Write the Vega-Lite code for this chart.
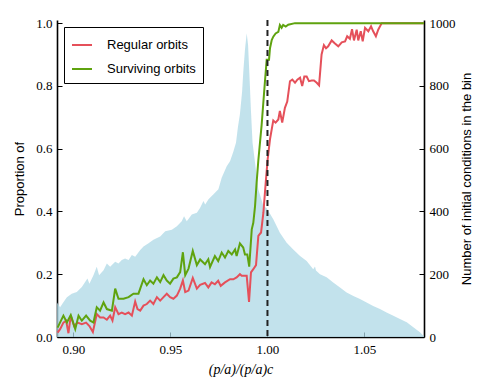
{
  "$schema": "https://vega.github.io/schema/vega-lite/v6.json",
  "width": 367,
  "height": 317,
  "autosize": {"type": "none"},
  "padding": {"left": 57, "top": 20, "right": 67, "bottom": 55},
  "background": "white",
  "config": {
    "view": {"stroke": null},
    "axis": {
      "grid": false,
      "domainColor": "#000000",
      "domainWidth": 1.6,
      "tickColor": "#000000",
      "tickWidth": 1,
      "tickSize": -5,
      "labelFont": "Liberation Serif",
      "labelFontSize": 13,
      "labelColor": "#000000",
      "titleFont": "Liberation Sans",
      "titleFontSize": 13,
      "titleFontWeight": "normal",
      "titleColor": "#000000"
    }
  },
  "datasets": {
    "hist": [
      {"x": 0.8915, "n": 110}, {"x": 0.8931, "n": 95}, {"x": 0.8948, "n": 111}, {"x": 0.8966, "n": 127},
      {"x": 0.8991, "n": 138}, {"x": 0.9017, "n": 143}, {"x": 0.9043, "n": 159}, {"x": 0.9060, "n": 175},
      {"x": 0.9072, "n": 186}, {"x": 0.9082, "n": 170}, {"x": 0.9103, "n": 197}, {"x": 0.9120, "n": 224},
      {"x": 0.9132, "n": 197}, {"x": 0.9155, "n": 213}, {"x": 0.9172, "n": 234}, {"x": 0.9189, "n": 224},
      {"x": 0.9215, "n": 240}, {"x": 0.9232, "n": 234}, {"x": 0.9249, "n": 245}, {"x": 0.9266, "n": 250},
      {"x": 0.9284, "n": 245}, {"x": 0.9301, "n": 261}, {"x": 0.9318, "n": 256}, {"x": 0.9344, "n": 277},
      {"x": 0.9361, "n": 288}, {"x": 0.9387, "n": 299}, {"x": 0.9412, "n": 310}, {"x": 0.9447, "n": 320},
      {"x": 0.9473, "n": 337}, {"x": 0.9490, "n": 339}, {"x": 0.9507, "n": 342}, {"x": 0.9533, "n": 353},
      {"x": 0.9558, "n": 369}, {"x": 0.9570, "n": 385}, {"x": 0.9584, "n": 369}, {"x": 0.9610, "n": 390},
      {"x": 0.9636, "n": 396}, {"x": 0.9653, "n": 412}, {"x": 0.9670, "n": 433}, {"x": 0.9679, "n": 422},
      {"x": 0.9696, "n": 439}, {"x": 0.9722, "n": 455}, {"x": 0.9747, "n": 471}, {"x": 0.9764, "n": 507},
      {"x": 0.9790, "n": 544}, {"x": 0.9807, "n": 560}, {"x": 0.9824, "n": 590}, {"x": 0.9838, "n": 620},
      {"x": 0.9848, "n": 670}, {"x": 0.9858, "n": 710}, {"x": 0.9869, "n": 780}, {"x": 0.9876, "n": 850},
      {"x": 0.9884, "n": 915}, {"x": 0.9893, "n": 968}, {"x": 0.9900, "n": 930}, {"x": 0.9906, "n": 850},
      {"x": 0.9915, "n": 720}, {"x": 0.9923, "n": 620}, {"x": 0.9936, "n": 555}, {"x": 0.9953, "n": 470},
      {"x": 0.9979, "n": 417}, {"x": 0.9996, "n": 410}, {"x": 1.0030, "n": 375}, {"x": 1.0064, "n": 332},
      {"x": 1.0099, "n": 300}, {"x": 1.0133, "n": 279}, {"x": 1.0168, "n": 258}, {"x": 1.0202, "n": 242},
      {"x": 1.0236, "n": 216}, {"x": 1.0245, "n": 225}, {"x": 1.0250, "n": 212}, {"x": 1.0271, "n": 200},
      {"x": 1.0305, "n": 190}, {"x": 1.0339, "n": 174}, {"x": 1.0374, "n": 158}, {"x": 1.0408, "n": 142},
      {"x": 1.0443, "n": 131}, {"x": 1.0477, "n": 121}, {"x": 1.0511, "n": 110}, {"x": 1.0545, "n": 99},
      {"x": 1.0580, "n": 89}, {"x": 1.0614, "n": 78}, {"x": 1.0649, "n": 68}, {"x": 1.0683, "n": 57},
      {"x": 1.0718, "n": 47}, {"x": 1.0752, "n": 31}, {"x": 1.0786, "n": 15}, {"x": 1.0807, "n": 2}
    ],
    "orbits": [
      {"s": "Regular orbits", "x": 0.8918, "p": 0.014}, {"s": "Regular orbits", "x": 0.8931, "p": 0.025},
      {"s": "Regular orbits", "x": 0.8948, "p": 0.046}, {"s": "Regular orbits", "x": 0.8962, "p": 0.052},
      {"s": "Regular orbits", "x": 0.8974, "p": 0.012}, {"s": "Regular orbits", "x": 0.8986, "p": 0.068},
      {"s": "Regular orbits", "x": 0.9003, "p": 0.035}, {"s": "Regular orbits", "x": 0.9021, "p": 0.046},
      {"s": "Regular orbits", "x": 0.9043, "p": 0.041}, {"s": "Regular orbits", "x": 0.9065, "p": 0.046},
      {"s": "Regular orbits", "x": 0.9082, "p": 0.035}, {"s": "Regular orbits", "x": 0.9100, "p": 0.016},
      {"s": "Regular orbits", "x": 0.9120, "p": 0.073}, {"s": "Regular orbits", "x": 0.9137, "p": 0.062},
      {"s": "Regular orbits", "x": 0.9155, "p": 0.062}, {"s": "Regular orbits", "x": 0.9172, "p": 0.055},
      {"s": "Regular orbits", "x": 0.9189, "p": 0.068}, {"s": "Regular orbits", "x": 0.9201, "p": 0.052},
      {"s": "Regular orbits", "x": 0.9215, "p": 0.095}, {"s": "Regular orbits", "x": 0.9232, "p": 0.073},
      {"s": "Regular orbits", "x": 0.9249, "p": 0.078}, {"s": "Regular orbits", "x": 0.9266, "p": 0.073},
      {"s": "Regular orbits", "x": 0.9284, "p": 0.078}, {"s": "Regular orbits", "x": 0.9301, "p": 0.068},
      {"s": "Regular orbits", "x": 0.9318, "p": 0.113}, {"s": "Regular orbits", "x": 0.9330, "p": 0.089},
      {"s": "Regular orbits", "x": 0.9344, "p": 0.084}, {"s": "Regular orbits", "x": 0.9361, "p": 0.100},
      {"s": "Regular orbits", "x": 0.9378, "p": 0.105}, {"s": "Regular orbits", "x": 0.9395, "p": 0.116},
      {"s": "Regular orbits", "x": 0.9412, "p": 0.105}, {"s": "Regular orbits", "x": 0.9430, "p": 0.127},
      {"s": "Regular orbits", "x": 0.9447, "p": 0.116}, {"s": "Regular orbits", "x": 0.9464, "p": 0.127},
      {"s": "Regular orbits", "x": 0.9481, "p": 0.138}, {"s": "Regular orbits", "x": 0.9498, "p": 0.127},
      {"s": "Regular orbits", "x": 0.9515, "p": 0.122}, {"s": "Regular orbits", "x": 0.9533, "p": 0.132},
      {"s": "Regular orbits", "x": 0.9550, "p": 0.154}, {"s": "Regular orbits", "x": 0.9564, "p": 0.180},
      {"s": "Regular orbits", "x": 0.9576, "p": 0.143}, {"s": "Regular orbits", "x": 0.9593, "p": 0.148},
      {"s": "Regular orbits", "x": 0.9615, "p": 0.188}, {"s": "Regular orbits", "x": 0.9636, "p": 0.154},
      {"s": "Regular orbits", "x": 0.9653, "p": 0.166}, {"s": "Regular orbits", "x": 0.9678, "p": 0.172},
      {"s": "Regular orbits", "x": 0.9695, "p": 0.158}, {"s": "Regular orbits", "x": 0.9712, "p": 0.174},
      {"s": "Regular orbits", "x": 0.9729, "p": 0.168}, {"s": "Regular orbits", "x": 0.9746, "p": 0.179},
      {"s": "Regular orbits", "x": 0.9759, "p": 0.163}, {"s": "Regular orbits", "x": 0.9781, "p": 0.174},
      {"s": "Regular orbits", "x": 0.9807, "p": 0.184}, {"s": "Regular orbits", "x": 0.9824, "p": 0.184},
      {"s": "Regular orbits", "x": 0.9841, "p": 0.190}, {"s": "Regular orbits", "x": 0.9858, "p": 0.200},
      {"s": "Regular orbits", "x": 0.9867, "p": 0.195}, {"s": "Regular orbits", "x": 0.9893, "p": 0.195},
      {"s": "Regular orbits", "x": 0.9905, "p": 0.112}, {"s": "Regular orbits", "x": 0.9915, "p": 0.206},
      {"s": "Regular orbits", "x": 0.9927, "p": 0.216}, {"s": "Regular orbits", "x": 0.9941, "p": 0.229},
      {"s": "Regular orbits", "x": 0.9953, "p": 0.322}, {"s": "Regular orbits", "x": 0.9967, "p": 0.333},
      {"s": "Regular orbits", "x": 0.9979, "p": 0.396}, {"s": "Regular orbits", "x": 0.9991, "p": 0.492},
      {"s": "Regular orbits", "x": 1.0001, "p": 0.566}, {"s": "Regular orbits", "x": 1.0013, "p": 0.630},
      {"s": "Regular orbits", "x": 1.0030, "p": 0.690}, {"s": "Regular orbits", "x": 1.0042, "p": 0.683},
      {"s": "Regular orbits", "x": 1.0056, "p": 0.693}, {"s": "Regular orbits", "x": 1.0064, "p": 0.720},
      {"s": "Regular orbits", "x": 1.0076, "p": 0.683}, {"s": "Regular orbits", "x": 1.0090, "p": 0.730},
      {"s": "Regular orbits", "x": 1.0102, "p": 0.750}, {"s": "Regular orbits", "x": 1.0116, "p": 0.815},
      {"s": "Regular orbits", "x": 1.0128, "p": 0.820}, {"s": "Regular orbits", "x": 1.0142, "p": 0.810},
      {"s": "Regular orbits", "x": 1.0154, "p": 0.820}, {"s": "Regular orbits", "x": 1.0168, "p": 0.826},
      {"s": "Regular orbits", "x": 1.0179, "p": 0.800}, {"s": "Regular orbits", "x": 1.0190, "p": 0.830},
      {"s": "Regular orbits", "x": 1.0202, "p": 0.830}, {"s": "Regular orbits", "x": 1.0214, "p": 0.815},
      {"s": "Regular orbits", "x": 1.0228, "p": 0.817}, {"s": "Regular orbits", "x": 1.0240, "p": 0.817},
      {"s": "Regular orbits", "x": 1.0254, "p": 0.810}, {"s": "Regular orbits", "x": 1.0266, "p": 0.802},
      {"s": "Regular orbits", "x": 1.0279, "p": 0.900}, {"s": "Regular orbits", "x": 1.0291, "p": 0.930},
      {"s": "Regular orbits", "x": 1.0302, "p": 0.920}, {"s": "Regular orbits", "x": 1.0313, "p": 0.926},
      {"s": "Regular orbits", "x": 1.0331, "p": 0.945}, {"s": "Regular orbits", "x": 1.0348, "p": 0.935},
      {"s": "Regular orbits", "x": 1.0365, "p": 0.926}, {"s": "Regular orbits", "x": 1.0383, "p": 0.939},
      {"s": "Regular orbits", "x": 1.0400, "p": 0.942}, {"s": "Regular orbits", "x": 1.0411, "p": 0.958},
      {"s": "Regular orbits", "x": 1.0425, "p": 0.950}, {"s": "Regular orbits", "x": 1.0436, "p": 0.981},
      {"s": "Regular orbits", "x": 1.0446, "p": 0.945}, {"s": "Regular orbits", "x": 1.0460, "p": 0.979},
      {"s": "Regular orbits", "x": 1.0468, "p": 0.945}, {"s": "Regular orbits", "x": 1.0481, "p": 0.974},
      {"s": "Regular orbits", "x": 1.0491, "p": 0.942}, {"s": "Regular orbits", "x": 1.0503, "p": 0.985},
      {"s": "Regular orbits", "x": 1.0520, "p": 0.974}, {"s": "Regular orbits", "x": 1.0534, "p": 0.990},
      {"s": "Regular orbits", "x": 1.0545, "p": 0.974}, {"s": "Regular orbits", "x": 1.0559, "p": 0.958},
      {"s": "Regular orbits", "x": 1.0571, "p": 0.979}, {"s": "Regular orbits", "x": 1.0589, "p": 1.0},
      {"s": "Regular orbits", "x": 1.0650, "p": 1.0}, {"s": "Regular orbits", "x": 1.0720, "p": 1.0},
      {"s": "Regular orbits", "x": 1.0807, "p": 1.0},
      {"s": "Surviving orbits", "x": 0.8918, "p": 0.030}, {"s": "Surviving orbits", "x": 0.8948, "p": 0.068},
      {"s": "Surviving orbits", "x": 0.8966, "p": 0.046}, {"s": "Surviving orbits", "x": 0.8986, "p": 0.070},
      {"s": "Surviving orbits", "x": 0.9009, "p": 0.025}, {"s": "Surviving orbits", "x": 0.9026, "p": 0.068},
      {"s": "Surviving orbits", "x": 0.9043, "p": 0.052}, {"s": "Surviving orbits", "x": 0.9065, "p": 0.068},
      {"s": "Surviving orbits", "x": 0.9086, "p": 0.052}, {"s": "Surviving orbits", "x": 0.9103, "p": 0.046},
      {"s": "Surviving orbits", "x": 0.9120, "p": 0.095}, {"s": "Surviving orbits", "x": 0.9137, "p": 0.084},
      {"s": "Surviving orbits", "x": 0.9155, "p": 0.110}, {"s": "Surviving orbits", "x": 0.9172, "p": 0.089},
      {"s": "Surviving orbits", "x": 0.9198, "p": 0.084}, {"s": "Surviving orbits", "x": 0.9215, "p": 0.154},
      {"s": "Surviving orbits", "x": 0.9232, "p": 0.122}, {"s": "Surviving orbits", "x": 0.9258, "p": 0.122},
      {"s": "Surviving orbits", "x": 0.9284, "p": 0.127}, {"s": "Surviving orbits", "x": 0.9309, "p": 0.138},
      {"s": "Surviving orbits", "x": 0.9335, "p": 0.138}, {"s": "Surviving orbits", "x": 0.9361, "p": 0.184},
      {"s": "Surviving orbits", "x": 0.9378, "p": 0.165}, {"s": "Surviving orbits", "x": 0.9395, "p": 0.180},
      {"s": "Surviving orbits", "x": 0.9412, "p": 0.170}, {"s": "Surviving orbits", "x": 0.9430, "p": 0.190},
      {"s": "Surviving orbits", "x": 0.9447, "p": 0.175}, {"s": "Surviving orbits", "x": 0.9464, "p": 0.197},
      {"s": "Surviving orbits", "x": 0.9481, "p": 0.180}, {"s": "Surviving orbits", "x": 0.9498, "p": 0.170},
      {"s": "Surviving orbits", "x": 0.9515, "p": 0.186}, {"s": "Surviving orbits", "x": 0.9533, "p": 0.190},
      {"s": "Surviving orbits", "x": 0.9550, "p": 0.207}, {"s": "Surviving orbits", "x": 0.9564, "p": 0.270},
      {"s": "Surviving orbits", "x": 0.9576, "p": 0.197}, {"s": "Surviving orbits", "x": 0.9593, "p": 0.218},
      {"s": "Surviving orbits", "x": 0.9615, "p": 0.274}, {"s": "Surviving orbits", "x": 0.9636, "p": 0.229},
      {"s": "Surviving orbits", "x": 0.9653, "p": 0.247}, {"s": "Surviving orbits", "x": 0.9678, "p": 0.232},
      {"s": "Surviving orbits", "x": 0.9695, "p": 0.248}, {"s": "Surviving orbits", "x": 0.9704, "p": 0.223},
      {"s": "Surviving orbits", "x": 0.9729, "p": 0.258}, {"s": "Surviving orbits", "x": 0.9746, "p": 0.242},
      {"s": "Surviving orbits", "x": 0.9764, "p": 0.269}, {"s": "Surviving orbits", "x": 0.9781, "p": 0.253},
      {"s": "Surviving orbits", "x": 0.9798, "p": 0.274}, {"s": "Surviving orbits", "x": 0.9816, "p": 0.263},
      {"s": "Surviving orbits", "x": 0.9833, "p": 0.279}, {"s": "Surviving orbits", "x": 0.9841, "p": 0.258},
      {"s": "Surviving orbits", "x": 0.9858, "p": 0.298}, {"s": "Surviving orbits", "x": 0.9875, "p": 0.285},
      {"s": "Surviving orbits", "x": 0.9884, "p": 0.263}, {"s": "Surviving orbits", "x": 0.9896, "p": 0.263},
      {"s": "Surviving orbits", "x": 0.9906, "p": 0.224}, {"s": "Surviving orbits", "x": 0.9919, "p": 0.343},
      {"s": "Surviving orbits", "x": 0.9927, "p": 0.364}, {"s": "Surviving orbits", "x": 0.9936, "p": 0.417},
      {"s": "Surviving orbits", "x": 0.9944, "p": 0.491}, {"s": "Surviving orbits", "x": 0.9953, "p": 0.563},
      {"s": "Surviving orbits", "x": 0.9970, "p": 0.676}, {"s": "Surviving orbits", "x": 0.9987, "p": 0.814},
      {"s": "Surviving orbits", "x": 0.9996, "p": 0.883}, {"s": "Surviving orbits", "x": 1.0008, "p": 0.883},
      {"s": "Surviving orbits", "x": 1.0013, "p": 0.920}, {"s": "Surviving orbits", "x": 1.0022, "p": 0.946},
      {"s": "Surviving orbits", "x": 1.0030, "p": 0.957}, {"s": "Surviving orbits", "x": 1.0042, "p": 0.967},
      {"s": "Surviving orbits", "x": 1.0056, "p": 0.972}, {"s": "Surviving orbits", "x": 1.0064, "p": 0.994},
      {"s": "Surviving orbits", "x": 1.0073, "p": 0.985}, {"s": "Surviving orbits", "x": 1.0081, "p": 0.994},
      {"s": "Surviving orbits", "x": 1.0094, "p": 0.989}, {"s": "Surviving orbits", "x": 1.0107, "p": 0.995},
      {"s": "Surviving orbits", "x": 1.0142, "p": 1.0}, {"s": "Surviving orbits", "x": 1.0300, "p": 1.0},
      {"s": "Surviving orbits", "x": 1.0500, "p": 1.0}, {"s": "Surviving orbits", "x": 1.0650, "p": 1.0},
      {"s": "Surviving orbits", "x": 1.0807, "p": 1.0}
    ],
    "vline": [{"x": 1.0}]
  },
  "layer": [
    {
      "data": {"name": "hist"},
      "mark": {"type": "area", "color": "#add8e6", "opacity": 0.75, "interpolate": "linear"},
      "encoding": {
        "x": {
          "field": "x", "type": "quantitative",
          "scale": {"domain": [0.8915, 1.0807], "nice": false, "zero": false},
          "axis": {
            "values": [0.90, 0.95, 1.00, 1.05], "format": ".2f",
            "title": "(p/a)/(p/a)c",
            "titleFont": "Liberation Serif", "titleFontStyle": "italic", "titleFontSize": 14,
            "labelPadding": 11, "titlePadding": 6
          }
        },
        "y": {
          "field": "n", "type": "quantitative",
          "scale": {"domain": [0, 1010], "nice": false},
          "axis": {
            "orient": "right", "values": [0, 200, 400, 600, 800, 1000], "format": "d",
            "title": "Number of initial conditions in the bin",
            "titleAngle": 270, "titleBaseline": "bottom",
            "labelPadding": 10, "titlePadding": 18
          }
        }
      }
    },
    {
      "data": {"name": "orbits"},
      "mark": {"type": "line", "strokeWidth": 2, "interpolate": "linear"},
      "encoding": {
        "x": {"field": "x", "type": "quantitative"},
        "y": {
          "field": "p", "type": "quantitative",
          "scale": {"domain": [0, 1.01], "nice": false},
          "axis": {
            "orient": "left", "values": [0, 0.2, 0.4, 0.6, 0.8, 1.0], "format": ".1f",
            "title": "Proportion of",
            "labelPadding": 10, "titlePadding": 9
          }
        },
        "color": {
          "field": "s", "type": "nominal",
          "scale": {"domain": ["Regular orbits", "Surviving orbits"], "range": ["#e5505a", "#5fa30f"]},
          "legend": {
            "title": null,
            "orient": "none", "legendX": 7, "legendY": 7,
            "strokeColor": "#000000", "fillColor": "#ffffff",
            "padding": 7, "cornerRadius": 0,
            "symbolType": "stroke", "symbolSize": 400, "symbolStrokeWidth": 2,
            "labelFont": "Liberation Sans", "labelFontSize": 13, "labelColor": "#000000",
            "labelOffset": 14, "rowPadding": 6
          }
        },
        "order": {"field": "s"}
      }
    },
    {
      "data": {"name": "vline"},
      "mark": {"type": "rule", "color": "#222222", "strokeWidth": 2, "strokeDash": [6, 4]},
      "encoding": {"x": {"field": "x", "type": "quantitative"}}
    }
  ],
  "resolve": {"scale": {"y": "independent"}}
}
